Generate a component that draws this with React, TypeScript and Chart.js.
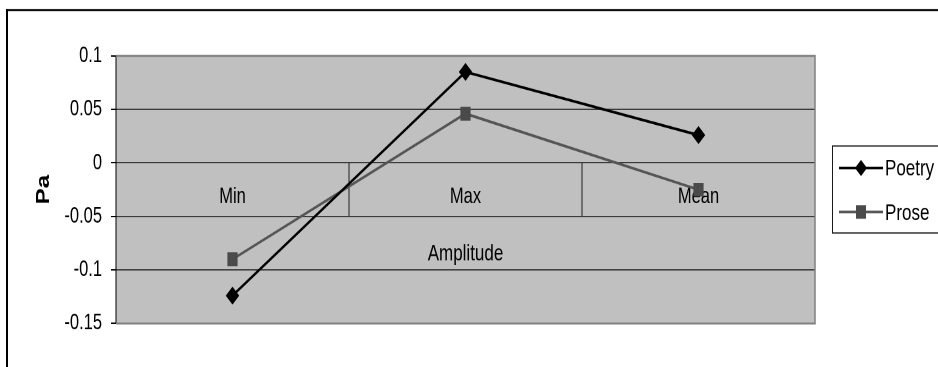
import React, { useEffect, useRef } from 'react';
import { Chart, registerables } from 'chart.js';

Chart.register(...registerables);

// Data
const categories = ['Min', 'Max', 'Mean'];
const poetry = [-0.124, 0.085, 0.026];
const prose = [-0.09, 0.046, -0.025];
const yTicks = [-0.15, -0.1, -0.05, 0, 0.05, 0.1];
const seriesNames = ['Poetry', 'Prose'];
const xTitle = 'Amplitude';
const yTitle = 'Pa';

// Canvas geometry: drawn at H and stretched vertically to the page height
const W = 938;
const PAGE_H = 367;
const H = 272;
const SY = PAGE_H / H;
const FONT = "'Liberation Sans', Arial, Helvetica, sans-serif";

const POETRY_COLOR = '#000000';
const PROSE_LINE = '#555555';
const PROSE_MARK = '#4a4a4a';

const decor = {
  id: 'decor',
  beforeDraw(chart: any) {
    const { ctx, chartArea: a } = chart;
    ctx.save();
    ctx.fillStyle = '#ffffff';
    ctx.fillRect(0, 0, W, H);
    // outer frame (top and left edges)
    ctx.fillStyle = '#000000';
    ctx.fillRect(6, 9 / SY, W, 2 / SY);
    ctx.fillRect(6, 9 / SY, 2, H);
    // plot area fill
    ctx.fillStyle = '#c0c0c0';
    ctx.fillRect(a.left, a.top, a.right - a.left, a.bottom - a.top);
    ctx.restore();
  },
  beforeDatasetsDraw(chart: any) {
    const { ctx, chartArea: a, scales } = chart;
    ctx.save();
    // plot area border
    ctx.strokeStyle = '#808080';
    ctx.lineWidth = 1.5;
    ctx.beginPath();
    ctx.moveTo(a.left, a.top);
    ctx.lineTo(a.right, a.top);
    ctx.lineTo(a.right, a.bottom);
    ctx.lineTo(a.left, a.bottom);
    ctx.stroke();
    // category axis title
    ctx.fillStyle = '#000000';
    ctx.font = `17px ${FONT}`;
    ctx.textAlign = 'center';
    ctx.textBaseline = 'middle';
    ctx.fillText(xTitle, (a.left + a.right) / 2, scales.y.getPixelForValue(0) + 67.7);
    ctx.restore();
  },
  afterDraw(chart: any) {
    const { ctx } = chart;
    ctx.save();
    const top = 146 / SY;
    const bottom = 233 / SY;
    ctx.strokeStyle = '#1a1a1a';
    ctx.lineWidth = 1;
    ctx.strokeRect(832.5, top, 200, bottom - top);

    const rows = [
      { name: seriesNames[0], y: 168 / SY, line: POETRY_COLOR, mark: POETRY_COLOR, shape: 'diamond' },
      { name: seriesNames[1], y: 212 / SY, line: PROSE_LINE, mark: PROSE_MARK, shape: 'square' },
    ];
    rows.forEach((r) => {
      ctx.strokeStyle = r.line;
      ctx.lineWidth = 2;
      ctx.beginPath();
      ctx.moveTo(839, r.y);
      ctx.lineTo(883, r.y);
      ctx.stroke();
      ctx.fillStyle = r.mark;
      ctx.beginPath();
      if (r.shape === 'diamond') {
        ctx.moveTo(861, r.y - 6);
        ctx.lineTo(867, r.y);
        ctx.lineTo(861, r.y + 6);
        ctx.lineTo(855, r.y);
        ctx.closePath();
      } else {
        ctx.rect(856, r.y - 5, 10, 10);
      }
      ctx.fill();
      ctx.fillStyle = '#000000';
      ctx.font = `17px ${FONT}`;
      ctx.textAlign = 'left';
      ctx.textBaseline = 'middle';
      ctx.fillText(r.name, 885, r.y + 1);
    });
    ctx.restore();
  },
};

export default function App() {
  const ref = useRef<HTMLCanvasElement>(null);

  useEffect(() => {
    const canvas = ref.current;
    if (!canvas) return;
    const chart = new Chart(canvas, {
      type: 'line',
      data: {
        labels: categories,
        datasets: [
          {
            label: seriesNames[0],
            data: poetry,
            borderColor: POETRY_COLOR,
            backgroundColor: POETRY_COLOR,
            pointBackgroundColor: POETRY_COLOR,
            pointBorderColor: POETRY_COLOR,
            borderWidth: 2,
            pointStyle: 'rectRot',
            pointRadius: 6,
            pointBorderWidth: 1,
            tension: 0,
          },
          {
            label: seriesNames[1],
            data: prose,
            borderColor: PROSE_LINE,
            backgroundColor: PROSE_MARK,
            pointBackgroundColor: PROSE_MARK,
            pointBorderColor: PROSE_MARK,
            borderWidth: 2,
            pointStyle: 'rect',
            pointRadius: 6.5,
            pointBorderWidth: 1,
            tension: 0,
          },
        ],
      },
      options: {
        responsive: false,
        animation: false,
        devicePixelRatio: 2,
        layout: { padding: { left: 0, right: 123, top: 41.4, bottom: 32.3 } },
        font: { family: FONT, size: 16 },
        plugins: {
          legend: { display: false },
          tooltip: { enabled: false },
        },
        scales: {
          x: {
            type: 'category',
            position: { y: 0 },
            offset: true,
            grid: {
              display: true,
              offset: true,
              drawOnChartArea: false,
              drawTicks: true,
              tickLength: 39.7,
              tickColor: '#1e1e1e',
              tickWidth: 1,
            },
            border: { display: true, color: '#3a3a3a', width: 1 },
            ticks: {
              padding: -24.3,
              color: '#000000',
              font: { family: FONT, size: 16.5 },
              maxRotation: 0,
            },
          },
          y: {
            type: 'linear',
            min: -0.15,
            max: 0.1,
            afterBuildTicks: (scale: any) => {
              scale.ticks = yTicks.map((v) => ({ value: v }));
            },
            afterFit: (scale: any) => {
              scale.width = 116;
            },
            grid: {
              color: (c: any) => (c.tick && c.tick.value === 0.1 ? '#808080' : '#3c3c3c'),
              lineWidth: 1,
              tickColor: '#000000',
              tickLength: 5,
            },
            border: { display: true, color: '#000000', width: 1 },
            ticks: {
              padding: 9,
              color: '#000000',
              font: { family: FONT, size: 16.5 },
              callback: (v: any) => String(v),
            },
            title: {
              display: true,
              text: yTitle,
              color: '#000000',
              font: { family: FONT, size: 18, weight: 'bold' },
              padding: { top: 33, bottom: 0 },
            },
          },
        },
      },
      plugins: [decor],
    } as any);
    return () => chart.destroy();
  }, []);

  return (
    <div
      style={{
        position: 'fixed',
        left: 0,
        top: 0,
        width: W,
        height: PAGE_H,
        overflow: 'hidden',
        background: '#ffffff',
      }}
    >
      <canvas
        ref={ref}
        width={W}
        height={H}
        style={{
          display: 'block',
          width: W,
          height: H,
          transform: `scaleY(${SY})`,
          transformOrigin: '0 0',
        }}
      />
    </div>
  );
}
